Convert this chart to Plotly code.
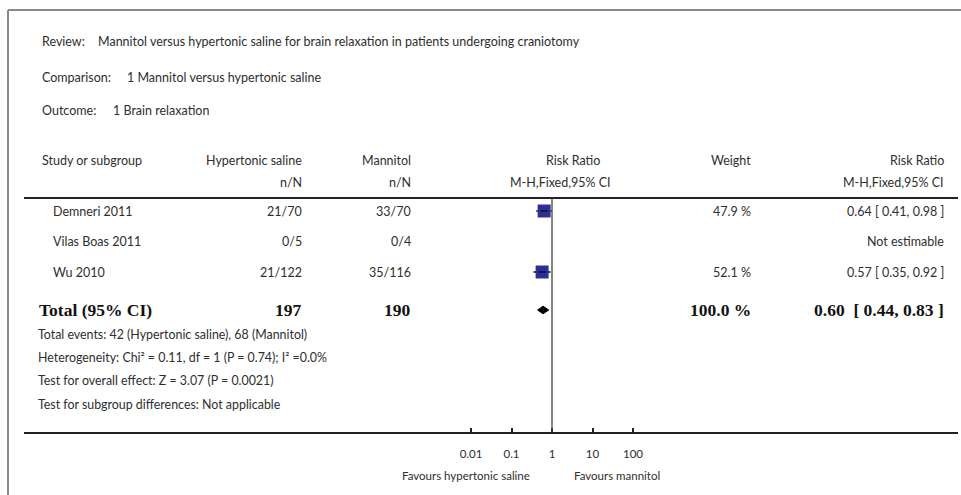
import plotly.graph_objects as go

# ---------------- data ----------------
studies = ["Demneri 2011", "Vilas Boas 2011", "Wu 2010"]
hs_events = [21, 0, 21]
hs_total = [70, 5, 122]
man_events = [33, 0, 35]
man_total = [70, 4, 116]
weights = [47.9, None, 52.1]
rr = [0.64, None, 0.57]
rr_lo = [0.41, None, 0.35]
rr_hi = [0.98, None, 0.92]

total_label = "Total (95% CI)"
total_hs = 197
total_man = 190
total_weight = 100.0
total_rr = 0.60
total_lo = 0.44
total_hi = 0.83
events_hs = 42
events_man = 68

tick_vals = [0.01, 0.1, 1, 10, 100]
tick_labels = ["0.01", "0.1", "1", "10", "100"]

footnotes = [
    "Total events: %d (Hypertonic saline), %d (Mannitol)" % (events_hs, events_man),
    "Heterogeneity: Chi² = 0.11, df = 1 (P = 0.74); I² =0.0%",
    "Test for overall effect: Z = 3.07 (P = 0.0021)",
    "Test for subgroup differences: Not applicable",
]

# ---------------- layout constants ----------------
W, H = 961, 495
FONT = "Lato"
SERIF = "Liberation Serif"
TXT = "#2e2e2e"
row_y = [211, 241, 272]
total_y = 310
foot_y = [334, 357, 380, 404]
axis_px = 432
one_px = 552.0
decade_px = 40.5
x_left_px, x_right_px = 24, 958

rng = [(x_left_px - one_px) / decade_px, (x_right_px - one_px) / decade_px]


def px(x):
    return x / W


def py(y):
    return 1 - y / H


fig = go.Figure()

# study squares with CI
valid = [i for i in range(len(studies)) if rr[i] is not None]
fig.add_trace(go.Scatter(
    x=[rr[i] for i in valid],
    y=[row_y[i] for i in valid],
    mode="markers",
    marker=dict(symbol="square", size=13, color="#2e2e96",
                line=dict(width=0)),
    error_x=dict(type="data", symmetric=False,
                 array=[rr_hi[i] - rr[i] for i in valid],
                 arrayminus=[rr[i] - rr_lo[i] for i in valid],
                 color="#111111", thickness=1.6, width=0),
    hoverinfo="skip", showlegend=False,
))
# black centre dash inside square
fig.add_trace(go.Scatter(
    x=[rr[i] for i in valid], y=[row_y[i] for i in valid], mode="markers",
    marker=dict(symbol="line-ew", size=5, line=dict(width=1.5, color="#111111")),
    hoverinfo="skip", showlegend=False,
))

# total diamond
dh = 3.8
fig.add_trace(go.Scatter(
    x=[total_lo, total_rr, total_hi, total_rr, total_lo],
    y=[total_y, total_y - dh, total_y, total_y + dh, total_y],
    mode="lines", fill="toself", fillcolor="#000000",
    line=dict(color="#000000", width=1),
    hoverinfo="skip", showlegend=False,
))

shapes = []
# gray frame (top and left)
shapes.append(dict(type="line", xref="paper", yref="paper", x0=px(8), x1=1, y0=py(10), y1=py(10),
                   line=dict(color="#8a8a8a", width=2)))
shapes.append(dict(type="line", xref="paper", yref="paper", x0=px(8), x1=px(8), y0=0, y1=py(10),
                   line=dict(color="#8a8a8a", width=2)))
# header rule
shapes.append(dict(type="line", xref="paper", yref="paper", x0=px(24), x1=px(958), y0=py(198), y1=py(198),
                   line=dict(color="#222222", width=2)))
# no-effect line
shapes.append(dict(type="line", xref="x", yref="y", x0=1, x1=1, y0=198, y1=axis_px,
                   line=dict(color="#444444", width=1.3)))

ann = []


def add(text, x, y, anchor="left", size=12.5, bold=False, serif=False, color=TXT):
    ann.append(dict(text=("<b>%s</b>" % text) if bold else text,
                    x=px(x), y=py(y), xref="paper", yref="paper",
                    xanchor=anchor, yanchor="middle", showarrow=False,
                    font=dict(family=SERIF if serif else FONT, size=size, color=color)))


# header block
add("Review:", 40, 42)
add("Mannitol versus hypertonic saline for brain relaxation in patients undergoing craniotomy", 96, 42)
add("Comparison:", 40, 77)
add("1 Mannitol versus hypertonic saline", 125, 77)
add("Outcome:", 40, 110)
add("1 Brain relaxation", 111, 110)

# column headers
add("Study or subgroup", 40, 160)
add("Hypertonic saline", 304, 160, "right")
add("n/N", 304, 183, "right")
add("Mannitol", 413, 160, "right")
add("n/N", 413, 183, "right")
add("Risk Ratio", 573, 160, "center")
add("M-H,Fixed,95% CI", 560, 183, "center")
add("Weight", 753, 160, "right")
add("Risk Ratio", 946, 160, "right")
add("M-H,Fixed,95% CI", 946, 183, "right")

# study rows
for i, s in enumerate(studies):
    y = row_y[i]
    add(s, 51, y)
    add("%d/%d" % (hs_events[i], hs_total[i]), 304, y, "right")
    add("%d/%d" % (man_events[i], man_total[i]), 413, y, "right")
    if weights[i] is not None:
        add("%.1f %%" % weights[i], 753, y, "right")
        add("%.2f [ %.2f, %.2f ]" % (rr[i], rr_lo[i], rr_hi[i]), 946, y, "right")
    else:
        add("Not estimable", 946, y, "right")

# total row
BS = 17.5
add(total_label, 37, total_y, bold=True, serif=True, size=BS, color="#111111")
add(str(total_hs), 304, total_y, "right", bold=True, serif=True, size=BS, color="#111111")
add(str(total_man), 413, total_y, "right", bold=True, serif=True, size=BS, color="#111111")
add("%.1f %%" % total_weight, 753, total_y, "right", bold=True, serif=True, size=BS, color="#111111")
add("%.2f  [ %.2f, %.2f ]" % (total_rr, total_lo, total_hi), 946, total_y, "right",
    bold=True, serif=True, size=BS, color="#111111")

for t, y in zip(footnotes, foot_y):
    add(t, 36, y, size=12.4)

add("Favours hypertonic saline", 532, 475, "right", size=11.5)
add("Favours mannitol", 572, 475, "left", size=11.5)

fig.update_layout(
    width=W, height=H,
    margin=dict(l=0, r=0, t=0, b=0),
    paper_bgcolor="white", plot_bgcolor="white",
    shapes=shapes, annotations=ann,
    xaxis=dict(type="log", range=rng, domain=[px(x_left_px), px(x_right_px)],
               tickvals=tick_vals, ticktext=tick_labels,
               ticks="inside", ticklen=4, tickwidth=1.5, tickcolor="#222222",
               showline=True, linecolor="#222222", linewidth=2,
               showgrid=False, zeroline=False, ticklabelstandoff=10,
               tickfont=dict(family=FONT, size=11.5, color=TXT), fixedrange=True),
    yaxis=dict(range=[axis_px, 0], domain=[(H - axis_px) / H, 1],
               visible=False, fixedrange=True),
)

fig.write_html(
    "out.html", config={"displayModeBar": False},
    post_script=("document.body.style.margin='0';"
                 "document.body.style.overflow='hidden';"
                 "document.documentElement.style.overflow='hidden';"),
)
